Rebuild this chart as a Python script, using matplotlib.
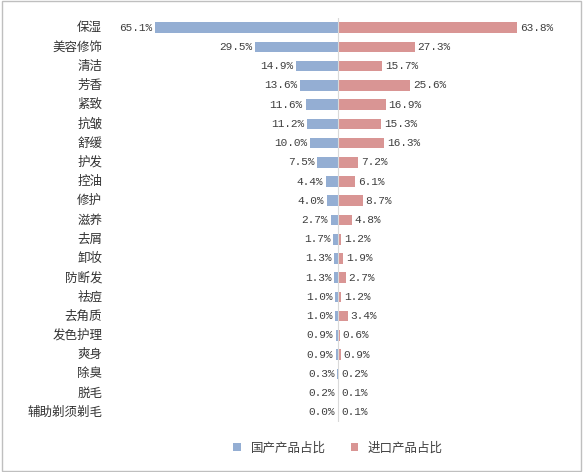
import matplotlib.pyplot as plt
from matplotlib.patches import Rectangle

plt.rcParams['font.family'] = ['Noto Sans CJK SC', 'DejaVu Sans']

categories = ["保湿", "美容修饰", "清洁", "芳香", "紧致", "抗皱", "舒缓", "护发", "控油", "修护",
              "滋养", "去屑", "卸妆", "防断发", "祛痘", "去角质", "发色护理", "爽身", "除臭", "脱毛", "辅助剃须剃毛"]
domestic = [65.1, 29.5, 14.9, 13.6, 11.6, 11.2, 10.0, 7.5, 4.4, 4.0, 2.7, 1.7, 1.3, 1.3, 1.0, 1.0, 0.9, 0.9, 0.3, 0.2, 0.0]
imported = [63.8, 27.3, 15.7, 25.6, 16.9, 15.3, 16.3, 7.2, 6.1, 8.7, 4.8, 1.2, 1.9, 2.7, 1.2, 3.4, 0.6, 0.9, 0.2, 0.1, 0.1]

blue = "#94AED3"
pink = "#D99594"

fig = plt.figure(figsize=(5.83, 4.72), dpi=100)
fig.patches.append(Rectangle((0.003, 0.003), 0.994, 0.994, transform=fig.transFigure,
                             fill=False, edgecolor="#BFBFBF", linewidth=1))
ax = fig.add_axes([105 / 583, 1 - 422 / 472, 455 / 583, 404 / 472])

y = list(range(len(categories)))
ax.barh(y, [-v for v in domestic], height=0.55, color=blue, label="国产产品占比")
ax.barh(y, imported, height=0.55, color=pink, label="进口产品占比")
ax.axvline(0, color="#D9D9D9", linewidth=0.8)

for i in y:
    ax.text(-domestic[i] - 1, i, f"{domestic[i]:.1f}%", ha="right", va="center",
            fontsize=8, family="Liberation Mono", color="#404040")
    ax.text(imported[i] + 1, i, f"{imported[i]:.1f}%", ha="left", va="center",
            fontsize=8, family="Liberation Mono", color="#404040")

ax.set_xlim(-83, 79)
ax.set_ylim(len(categories) - 0.5, -0.5)
ax.set_xticks([])
ax.set_yticks([])
for i, c in enumerate(categories):
    ax.text(-84, i, c, ha="right", va="center", fontsize=9, color="#333333")
for s in ax.spines.values():
    s.set_visible(False)

fig.legend(loc="center", bbox_to_anchor=(338 / 583, 1 - 448 / 472), ncol=2, frameon=False,
           fontsize=9, handlelength=0.6, handleheight=0.6, columnspacing=2, labelcolor="#404040")

fig.savefig("out.png", dpi=100)
